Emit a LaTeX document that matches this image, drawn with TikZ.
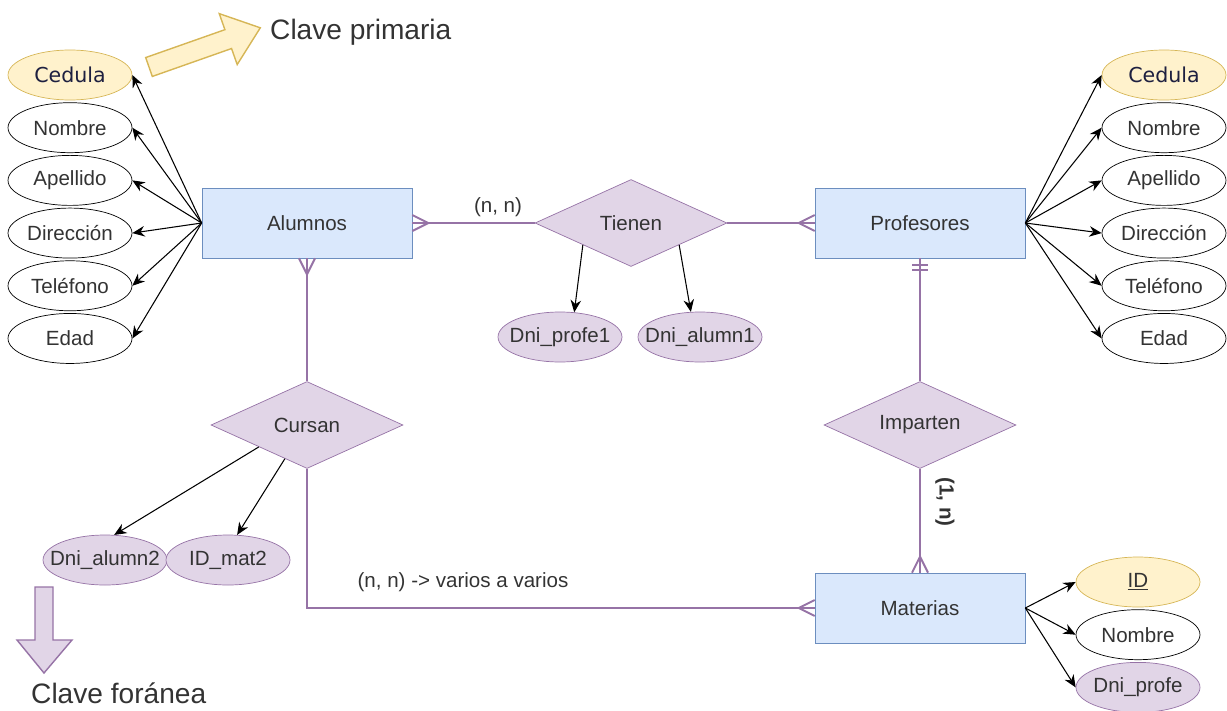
\documentclass[tikz,border=0pt]{standalone}
\usepackage{fontspec}
\setmainfont{Liberation Sans}
\newfontfamily\keyfont{DejaVu Sans}
\usepackage{xcolor}
\usetikzlibrary{arrows.meta, positioning, calc, shapes.geometric}

\definecolor{entfill}{HTML}{DAE8FC}
\definecolor{entdraw}{HTML}{6C8EBF}
\definecolor{relfill}{HTML}{E1D5E7}
\definecolor{reldraw}{HTML}{9673A6}
\definecolor{keyfill}{HTML}{FFF2CC}
\definecolor{keydraw}{HTML}{D6B656}
\definecolor{keytxt}{HTML}{1E2040}
\definecolor{txt}{HTML}{333333}

% crow's foot at #1, opening away from the node in direction #2
\newcommand{\crowfoot}[2]{%
  \draw[rel] ($#1+(#2:16)$) -- ($#1+(#2+90:8)$)
             ($#1+(#2:16)$) -- ($#1+(#2-90:8)$);}

\begin{document}
\begin{tikzpicture}[
  x=0.02cm, y=-0.02cm,
  every node/.style={font=\fontsize{11.7}{14}\selectfont, text=txt},
  entity/.style={draw=entdraw, fill=entfill, minimum width=4.2cm, minimum height=1.4cm},
  relation/.style={diamond, aspect=2.2, draw=reldraw, fill=relfill, minimum width=3.84cm, minimum height=1.74cm, inner sep=0pt},
  attr/.style={ellipse, draw=black, fill=white, minimum width=2.48cm, minimum height=1cm, inner sep=0pt,
    execute at begin node={\hbox to 0pt\bgroup\hss}, execute at end node={\hss\egroup}},
  keyattr/.style={attr, draw=keydraw, fill=keyfill, text=keytxt},
  fkattr/.style={attr, draw=reldraw, fill=relfill},
  rel/.style={draw=reldraw, line width=1.1pt},
  arrow/.style={-{Stealth[length=7pt, width=6pt]}, black, line width=0.6pt},
  pkarrow/.style={fill=keyfill, draw=keydraw, line width=0.8pt},
  fkarrow/.style={fill=relfill, draw=reldraw, line width=0.8pt},
  note/.style={font=\fontsize{16}{19}\selectfont, anchor=west},
  ]
  \useasboundingbox (0,0) rectangle (1227,710);

  % Entities and relations
  \node[entity] (alumnos) at (307,223) {Alumnos};
  \node[relation] (tienen) at (631,223) {Tienen};
  \node[entity] (profesores) at (920,223) {Profesores};
  \node[relation] (cursan) at (307,425) {Cursan};
  \node[relation] (imparten) at (920,425) {Imparten};
  \node[entity] (materias) at (920,608) {Materias};

  % Attributes of Alumnos
  \node[keyattr] (cedulaA) at (70,75) {\keyfont Cedula};
  \node[attr, below=0.04cm of cedulaA] (nombreA) {Nombre};
  \node[attr, below=0.04cm of nombreA] (apellidoA) {Apellido};
  \node[attr, below=0.04cm of apellidoA] (direccionA) {Dirección};
  \node[attr, below=0.04cm of direccionA] (telefonoA) {Teléfono};
  \node[attr, below=0.04cm of telefonoA] (edadA) {Edad};

  % Attributes of Profesores
  \node[keyattr] (cedulaP) at (1164,75) {\keyfont Cedula};
  \node[attr, below=0.04cm of cedulaP] (nombreP) {Nombre};
  \node[attr, below=0.04cm of nombreP] (apellidoP) {Apellido};
  \node[attr, below=0.04cm of apellidoP] (direccionP) {Dirección};
  \node[attr, below=0.04cm of direccionP] (telefonoP) {Teléfono};
  \node[attr, below=0.04cm of telefonoP] (edadP) {Edad};

  % Attributes of Materias
  \node[keyattr, text=txt] (idM) at (1138,582) {\underline{ID}};
  \node[attr, below=0.04cm of idM] (nombreM) {Nombre};
  \node[fkattr, below=0.04cm of nombreM] (dniprofeM) {Dni\_profe};

  % Foreign keys of the relations
  \node[fkattr] (dniprofe1) at (560,337) {Dni\_profe1};
  \node[fkattr] (dnialumn1) at (700,337) {Dni\_alumn1};
  \node[fkattr] (dnialumn2) at (105,560) {Dni\_alumn2};
  \node[fkattr] (idmat2) at (228,560) {ID\_mat2};

  % Relationship lines
  \draw[rel] (alumnos.east) -- (tienen.west);
  \crowfoot{(alumnos.east)}{0}
  \draw[rel] (tienen.east) -- (profesores.west);
  \crowfoot{(profesores.west)}{180}
  \draw[rel] (alumnos.south) -- (cursan.north);
  \crowfoot{(alumnos.south)}{90}
  \draw[rel] (cursan.south) |- (materias.west);
  \crowfoot{(materias.west)}{180}
  \draw[rel] (profesores.south) -- (imparten.north);
  \draw[rel] ($(profesores.south)+(-8,7)$) -- ++(16,0)
             ($(profesores.south)+(-8,12)$) -- ++(16,0);
  \draw[rel] (imparten.south) -- (materias.north);
  \crowfoot{(materias.north)}{-90}

  % Cardinalities
  \node (nnTienen) at (498,207) {(n, n)};
  \node (nnCursan) at (463,582) {(n, n) -> varios a varios};
  \node[rotate=-90] (unoN) at (945,502) {\textbf{(1, n)}};

  % Attribute arrows
  \draw[arrow] (alumnos.west) -- (cedulaA.east);
  \draw[arrow] (alumnos.west) -- (nombreA.east);
  \draw[arrow] (alumnos.west) -- (apellidoA.east);
  \draw[arrow] (alumnos.west) -- (direccionA.east);
  \draw[arrow] (alumnos.west) -- (telefonoA.east);
  \draw[arrow] (alumnos.west) -- (edadA.east);

  \draw[arrow] (profesores.east) -- (cedulaP.west);
  \draw[arrow] (profesores.east) -- (nombreP.west);
  \draw[arrow] (profesores.east) -- (apellidoP.west);
  \draw[arrow] (profesores.east) -- (direccionP.west);
  \draw[arrow] (profesores.east) -- (telefonoP.west);
  \draw[arrow] (profesores.east) -- (edadP.west);

  \draw[arrow] (materias.east) -- (idM.west);
  \draw[arrow] (materias.east) -- (nombreM.west);
  \draw[arrow] (materias.east) -- (dniprofeM.west);

  \draw[arrow] ($(tienen.south)!0.5!(tienen.west)$) -- (dniprofe1.60);
  \draw[arrow] ($(tienen.south)!0.5!(tienen.east)$) -- (dnialumn1.110);
  \draw[arrow] ($(cursan.south)!0.5!(cursan.west)$) -- (dnialumn2.70);
  \draw[arrow] ($(cursan.south)!0.23!(cursan.west)$) -- (idmat2.70);

  % Legend
  \filldraw[pkarrow, shift={(149,67)}, rotate=19.4]
    (0,-10) -- (84,-10) -- (84,-27) -- (118,0) -- (84,27) -- (84,10) -- (0,10) -- cycle;
  \node[note] (pkNote) at (264,32) {Clave primaria};
  \filldraw[fkarrow]
    (35,587) -- (53,587) -- (53,640) -- (72,640) -- (44,673) -- (17,640) -- (35,640) -- cycle;
  \node[note] (fkNote) at (25,693) {Clave foránea};

\end{tikzpicture}
\end{document}
